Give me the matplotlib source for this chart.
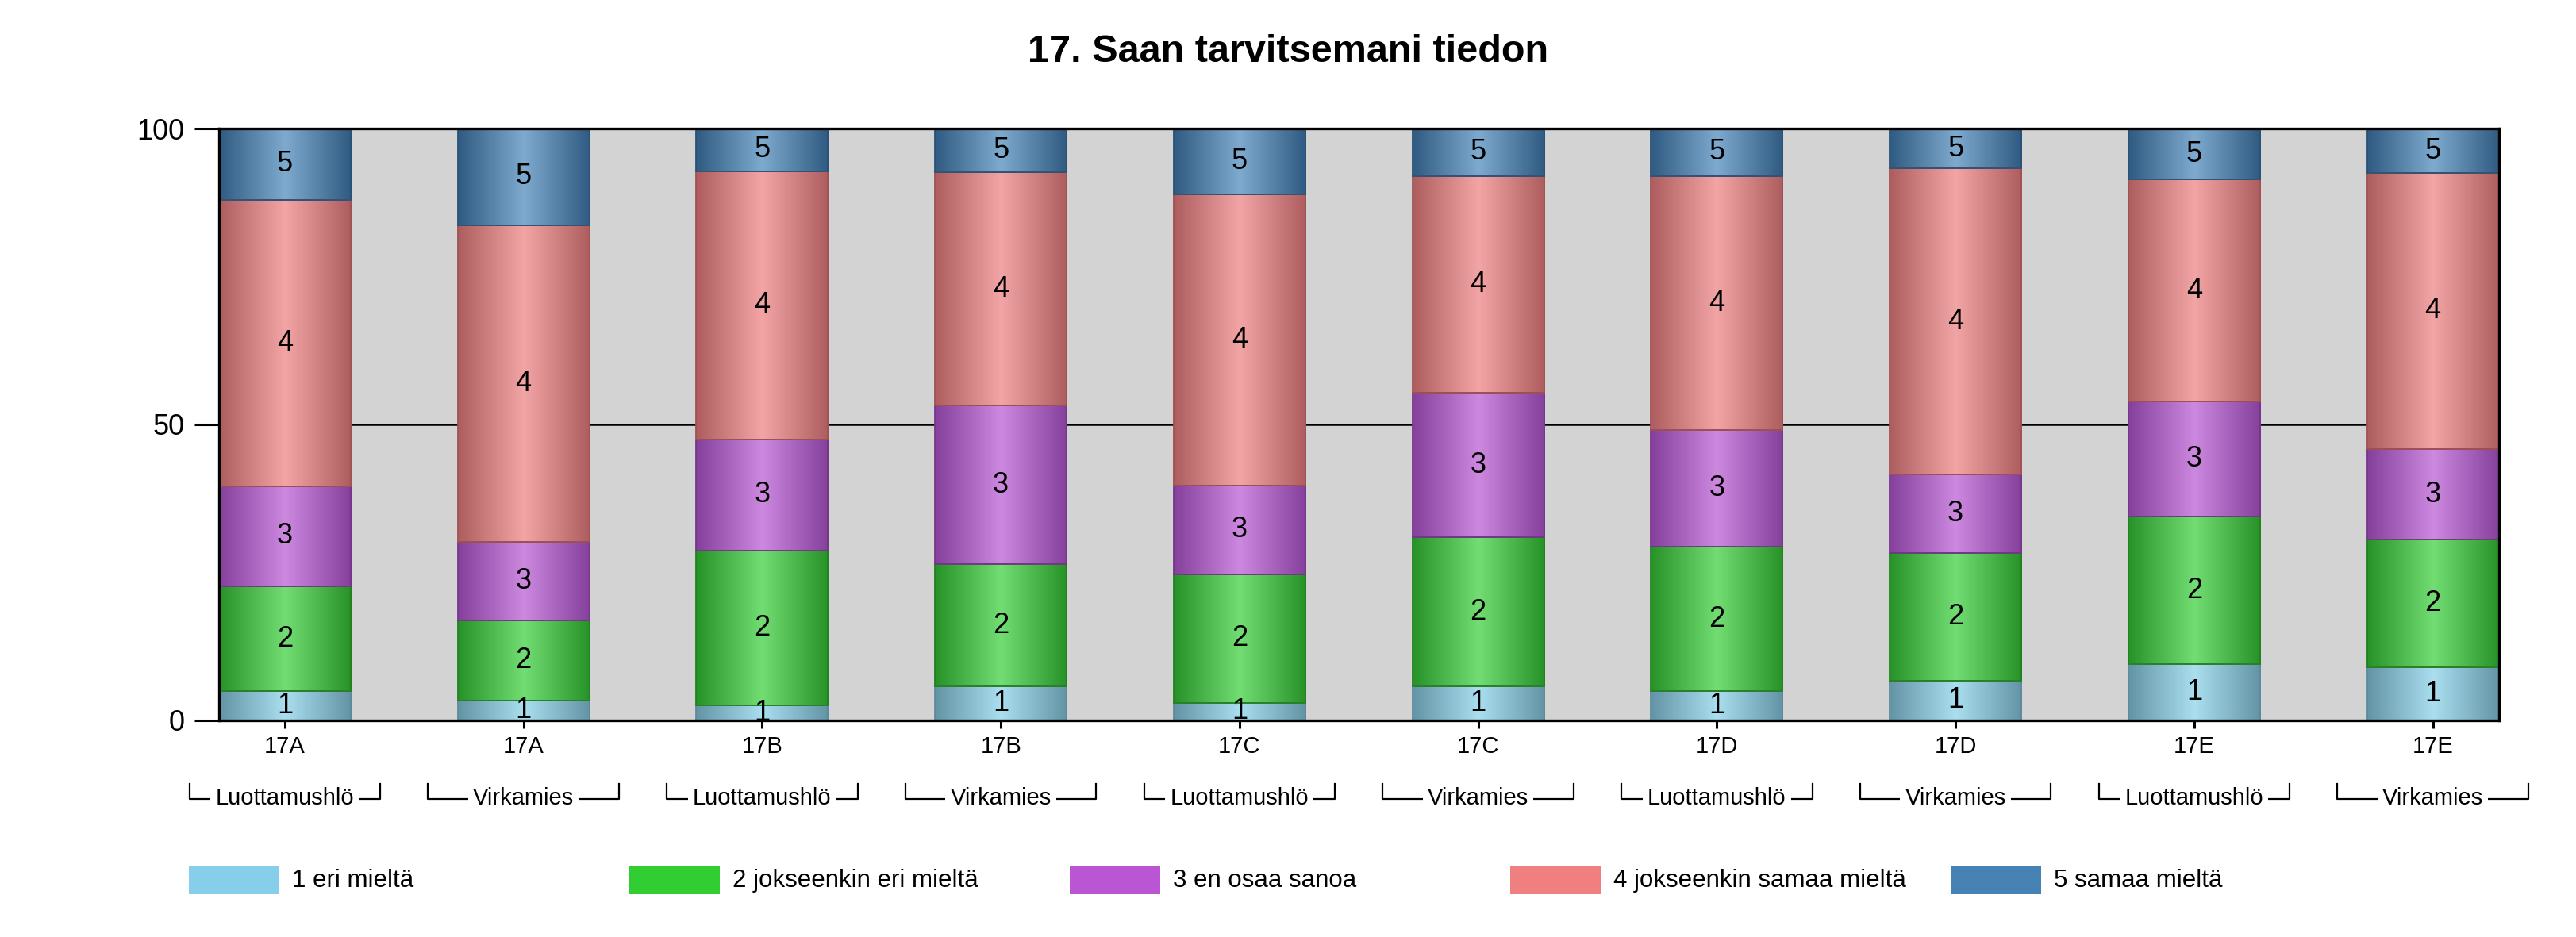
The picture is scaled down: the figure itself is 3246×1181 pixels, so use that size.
import matplotlib.pyplot as plt
import matplotlib.transforms as mtransforms
from matplotlib.colors import LinearSegmentedColormap
from matplotlib.patches import Rectangle
import numpy as np

OUT_FILE = 'out.png'

TITLE = '17. Saan tarvitsemani tiedon'
TICK_LABELS = ['17A', '17A', '17B', '17B', '17C', '17C', '17D', '17D', '17E', '17E']
GROUP_LABELS = ['Luottamushlö', 'Virkamies', 'Luottamushlö', 'Virkamies', 'Luottamushlö',
                'Virkamies', 'Luottamushlö', 'Virkamies', 'Luottamushlö', 'Virkamies']
SERIES_NAMES = ['1 eri mieltä', '2 jokseenkin eri mieltä', '3 en osaa sanoa',
                '4 jokseenkin samaa mieltä', '5 samaa mieltä']
SEGMENT_TEXT = ['1', '2', '3', '4', '5']

# percentages per answer, one value per bar
eri_mielta = [4.9, 3.4, 2.6, 5.7, 3.0, 5.7, 4.9, 6.7, 9.5, 9.0]
jokseenkin_eri = [17.7, 13.5, 26.1, 20.7, 21.7, 25.3, 24.4, 21.6, 24.9, 21.5]
en_osaa = [17.0, 13.3, 18.8, 26.8, 15.0, 24.3, 19.7, 13.2, 19.5, 15.4]
jokseenkin_samaa = [48.4, 53.5, 45.3, 39.4, 49.2, 36.7, 43.0, 51.8, 37.5, 46.6]
samaa_mielta = [12.0, 16.3, 7.2, 7.4, 11.1, 8.0, 8.0, 6.7, 8.6, 7.5]

LEGEND_COLORS = ['#87CEEB', '#32CD32', '#BA55D3', '#F08080', '#4682B4']
EDGE_SHADES = ['#6394a6', '#279227', '#84409b', '#ad5d5d', '#2f5b82']
CENTER_SHADES = ['#aadff0', '#72dd72', '#cd88e0', '#f3a5a5', '#7eaacf']
LINE_SHADES = ['#5d8a9c', '#23801f', '#75368a', '#a05252', '#2a5275']

plt.rcParams['font.family'] = ['Liberation Sans', 'DejaVu Sans']


def draw_segments(ax, x, series):
    """Stacked bars with a cylinder-like horizontal shading."""
    bottom = np.zeros(len(x))
    grad = np.linspace(0, 1, 256).reshape(1, -1)
    for k, vals in enumerate(series):
        vals = np.array(vals)
        bars = ax.bar(x, vals, width=0.552, bottom=bottom, color=LEGEND_COLORS[k],
                      linewidth=0, zorder=2)
        cmap = LinearSegmentedColormap.from_list(
            f'shade{k}', [EDGE_SHADES[k], CENTER_SHADES[k], EDGE_SHADES[k]])
        for rect in bars:
            x0, y0 = rect.get_x(), rect.get_y()
            w, h = rect.get_width(), rect.get_height()
            im = ax.imshow(grad, cmap=cmap, extent=(x0, x0 + w, y0, y0 + h),
                           aspect='auto', interpolation='bicubic', zorder=2.5)
            im.set_clip_path(rect)
            ax.text(x0 + w / 2, y0 + h / 2, SEGMENT_TEXT[k], ha='center', va='center',
                    fontsize=26, zorder=4)
        ax.bar(x, vals, width=0.552, bottom=bottom, fill=False,
               edgecolor=LINE_SHADES[k], linewidth=1.3, zorder=3)
        bottom += vals


def draw_groups(ax, x):
    """Bracket-like group labels under the tick labels."""
    trans = mtransforms.blended_transform_factory(ax.transData, ax.transAxes)
    for xi, label in zip(x, GROUP_LABELS):
        ax.plot([xi - 0.4, xi - 0.4, xi + 0.4, xi + 0.4], [-0.107, -0.133, -0.133, -0.107],
                transform=trans, clip_on=False, color='black', linewidth=1.6)
        ax.text(xi, -0.142, label, transform=trans, ha='center', va='baseline', fontsize=21,
                clip_on=False, bbox=dict(facecolor='white', edgecolor='none', pad=4.5))


def draw_legend(fig):
    W, H = 3246, 1181
    for i, (name, color) in enumerate(zip(SERIES_NAMES, LEGEND_COLORS)):
        left = 238 + 555 * i
        fig.add_artist(Rectangle((left / W, 1 - 1127 / H), 114 / W, 36 / H,
                                 transform=fig.transFigure, facecolor=color, edgecolor='none'))
        fig.text((left + 130) / W, 1 - 1110 / H, name, ha='left', va='center', fontsize=22.5)


def main():
    fig = plt.figure(figsize=(32.46, 11.81), dpi=100)
    ax = fig.add_axes([0.085, 0.2312, 0.885, 0.6316])
    x = np.arange(len(TICK_LABELS))

    series = [eri_mielta, jokseenkin_eri, en_osaa, jokseenkin_samaa, samaa_mielta]
    draw_segments(ax, x, series)

    ax.set_facecolor('#d3d3d3')
    ax.axhline(50, color='black', linewidth=1.8, zorder=1)
    ax.set_xlim(-0.276, len(x) - 1 + 0.276)
    ax.set_ylim(0, 100)
    ax.set_yticks([0, 50, 100])
    ax.set_xticks(x, TICK_LABELS)
    ax.tick_params(axis='y', length=22, width=2.2, pad=9, labelsize=26)
    ax.tick_params(axis='x', length=7, width=2.2, pad=7, labelsize=21)
    for spine in ax.spines.values():
        spine.set_linewidth(2.4)
        spine.set_zorder(5)

    draw_groups(ax, x)
    draw_legend(fig)
    fig.text(0.5, 1 - 66 / 1181, TITLE, ha='center', va='center', fontsize=35,
             fontweight='bold')

    fig.savefig(OUT_FILE, dpi=100)
    plt.close(fig)


if __name__ == "__main__":
    main()
